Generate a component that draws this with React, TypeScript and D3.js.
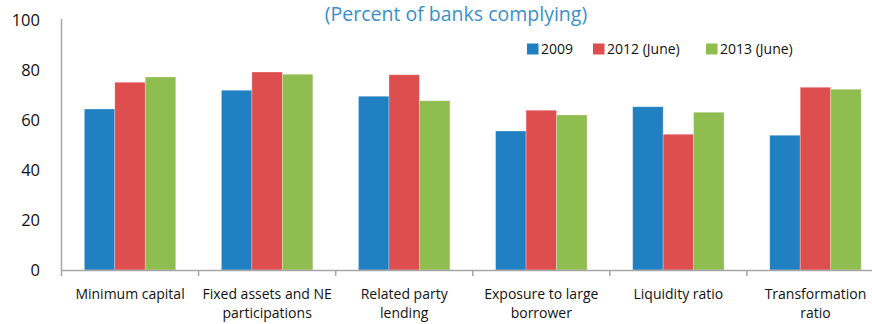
import React from "react";
import * as d3 from "d3";

const categories = [
  ["Minimum capital"],
  ["Fixed assets and NE", "participations"],
  ["Related party", "lending"],
  ["Exposure to large", "borrower"],
  ["Liquidity ratio"],
  ["Transformation", "ratio"],
];
const seriesNames = ["2009", "2012 (June)", "2013 (June)"];
const v2009 = [64.4, 71.9, 69.5, 55.6, 65.3, 53.9];
const v2012 = [75.1, 79.2, 78.1, 63.9, 54.3, 73.1];
const v2013 = [77.2, 78.3, 67.7, 62.0, 63.1, 72.3];
const yTicks = [0, 20, 40, 60, 80, 100];
const colors = ["#2180C2", "#DF4E4E", "#8FBD4F"];
const title = "(Percent of banks complying)";

export default function App() {
  const W = 872, H = 324;
  const font = "'Open Sans', sans-serif";
  const x0 = d3.scaleBand<number>().domain(d3.range(categories.length)).range([61.5, 884]).paddingInner(0).paddingOuter(0);
  const cw = x0.bandwidth();
  const groupW = cw * (91.5 / 137.2);
  const x1 = d3.scaleBand<number>().domain([0, 1, 2]).range([0, groupW]).padding(0);
  const y = d3.scaleLinear().domain([0, 100]).range([270, 20]);
  const series = [v2009, v2012, v2013];
  const axisColor = "#A6A6A6";
  const legendX = [527, 593, 706];
  return (
    <div style={{ position: "fixed", left: 0, top: 0, width: W, height: H }}>
      <svg width={W} height={H} style={{ display: "block", background: "#fff" }}>
        <text x={456} y={20.5} textAnchor="middle" fontFamily={font} fontSize={19.5} fill="#3A8FCB">{title}</text>
        {yTicks.map((t) => (
          <text key={t} x={40} y={y(t) + 6} textAnchor="end" fontFamily={font} fontSize={16.5} fill="#111">{t}</text>
        ))}
        {series.map((vals, si) =>
          vals.map((v, ci) => {
            const bx = (x0(ci) as number) + (cw - groupW) / 2 + (x1(si) as number);
            return (
              <rect key={`${si}-${ci}`} x={bx} y={y(v)} width={x1.bandwidth()} height={y(0) - y(v)} fill={colors[si]} stroke="#ffffff" strokeOpacity={0.35} strokeWidth={0.8} />
            );
          })
        )}
        <line x1={61.5} x2={61.5} y1={19} y2={270} stroke={axisColor} strokeWidth={1.5} />
        <line x1={61.5} x2={W} y1={270.5} y2={270.5} stroke={axisColor} strokeWidth={1.5} />
        {d3.range(categories.length + 1).map((i) => {
          const tx = 61.5 + i * cw;
          return <line key={i} x1={tx} x2={tx} y1={270} y2={276} stroke={axisColor} strokeWidth={1.5} />;
        })}
        {categories.map((lines, ci) => (
          <text key={ci} x={(x0(ci) as number) + cw / 2} y={299} textAnchor="middle" fontFamily={font} fontSize={14} fill="#111">
            {lines.map((l, li) => (
              <tspan key={li} x={(x0(ci) as number) + cw / 2} dy={li === 0 ? 0 : 19}>{l}</tspan>
            ))}
          </text>
        ))}
        {seriesNames.map((n, i) => (
          <g key={n}>
            <rect x={legendX[i]} y={43.5} width={11.5} height={11} fill={colors[i]} />
            <text x={legendX[i] + 14} y={54} fontFamily={font} fontSize={14} fill="#111">{n}</text>
          </g>
        ))}
      </svg>
    </div>
  );
}
